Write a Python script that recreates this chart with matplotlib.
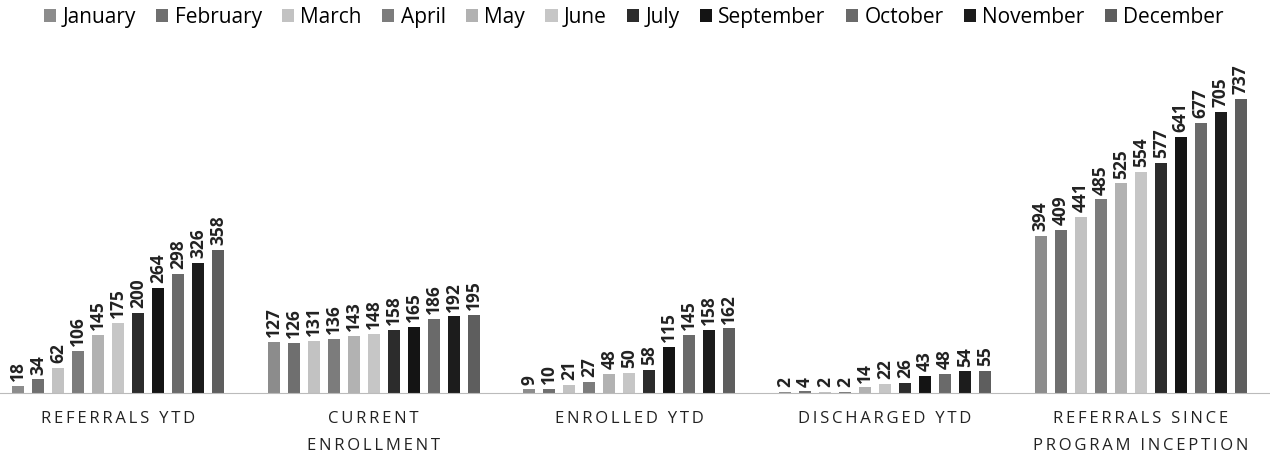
import matplotlib
matplotlib.use("Agg")
import matplotlib.pyplot as plt
import numpy as np

categories = ["REFERRALS YTD", "CURRENT\nENROLLMENT", "ENROLLED YTD", "DISCHARGED YTD",
              "REFERRALS SINCE\nPROGRAM INCEPTION"]
months = ["January", "February", "March", "April", "May", "June", "July",
          "September", "October", "November", "December"]
referrals_ytd = [18, 34, 62, 106, 145, 175, 200, 264, 298, 326, 358]
current_enrollment = [127, 126, 131, 136, 143, 148, 158, 165, 186, 192, 195]
enrolled_ytd = [9, 10, 21, 27, 48, 50, 58, 115, 145, 158, 162]
discharged_ytd = [2, 4, 2, 2, 14, 22, 26, 43, 48, 54, 55]
referrals_since = [394, 409, 441, 485, 525, 554, 577, 641, 677, 705, 737]

colors = ["#8c8c8c", "#6f6f6f", "#c2c2c2", "#7c7c7c", "#b2b2b2", "#c6c6c6",
          "#2c2c2c", "#141414", "#6a6a6a", "#1c1c1c", "#5e5e5e"]

data = np.array([referrals_ytd, current_enrollment, enrolled_ytd, discharged_ytd, referrals_since])

plt.rcParams['font.family'] = ['Open Sans', 'DejaVu Sans']
fig = plt.figure(figsize=(12.7, 4.65), dpi=100)
ax = fig.add_axes([0.0, 0.155, 1.0, 0.785])

x = np.arange(len(categories))
step = 0.0782
width = 0.046
handles = []
for i, m in enumerate(months):
    pos = x + (i - 5) * step
    bars = ax.bar(pos, data[:, i], width=width, color=colors[i], label=m)
    handles.append(bars)
    for xp, v in zip(pos, data[:, i]):
        ax.text(xp, v + 12, str(v), rotation=90, ha='center', va='bottom',
                fontsize=12.5, fontweight='bold', color='#222222')

ax.set_xlim(-0.461, 4.505)
ax.set_ylim(0, 915)
for s in ['top', 'right', 'left']:
    ax.spines[s].set_visible(False)
ax.spines['bottom'].set_color('#bbbbbb')
ax.spines['bottom'].set_linestyle((0, (1, 1)))
ax.set_yticks([])
ax.set_xticks(x)
sp = "\u2009"
labels = ["\n".join(sp.join(line) for line in c.split("\n")) for c in categories]
ax.set_xticklabels(labels, fontsize=12, color='#222222', linespacing=1.9)
ax.tick_params(axis='x', length=0, pad=13)

fig.legend(handles=handles, labels=months, loc='upper center', bbox_to_anchor=(0.499, 1.025),
           ncol=11, frameon=False, fontsize=15, handlelength=0.6, handleheight=0.6,
           handletextpad=0.3, columnspacing=0.96)

fig.savefig("out.png", dpi=100)
